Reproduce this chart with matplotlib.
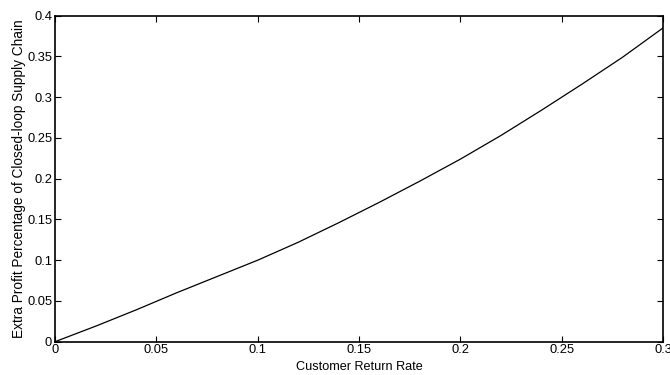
import matplotlib
matplotlib.use("Agg")
import matplotlib.pyplot as plt

# values
return_rate = [0, 0.02, 0.04, 0.06, 0.08, 0.10, 0.12, 0.14, 0.16, 0.18,
               0.20, 0.22, 0.24, 0.26, 0.28, 0.30]
extra_profit = [0, 0.019, 0.039, 0.060, 0.080, 0.100, 0.122, 0.146, 0.171, 0.197,
                0.224, 0.253, 0.284, 0.316, 0.349, 0.385]

x_ticks = [0, 0.05, 0.1, 0.15, 0.2, 0.25, 0.3]
x_labels = ["0", "0.05", "0.1", "0.15", "0.2", "0.25", "0.3"]
y_ticks = [0, 0.05, 0.1, 0.15, 0.2, 0.25, 0.3, 0.35, 0.4]
y_labels = ["0", "0.05", "0.1", "0.15", "0.2", "0.25", "0.3", "0.35", "0.4"]

plt.rcParams['font.family'] = ['Liberation Sans', 'DejaVu Sans']

fig = plt.figure(figsize=(6.7, 3.75), dpi=100)
ax = fig.add_axes([0.0821, 0.0888, 0.9075, 0.8693])

ax.plot(return_rate, extra_profit, color='black', linewidth=0.9)

ax.set_xlim(0, 0.3)
ax.set_ylim(0, 0.4)
ax.set_xticks(x_ticks)
ax.set_xticklabels(x_labels)
ax.set_yticks(y_ticks)
ax.set_yticklabels(y_labels)
ax.tick_params(direction='in', top=True, right=True, length=4, width=0.8,
               labelsize=9.3, pad=2)
for s in ax.spines.values():
    s.set_linewidth(1.2)

ax.set_xlabel("Customer Return Rate", fontsize=9.1, labelpad=3)
ax.set_ylabel("Extra Profit Percentage of Closed-loop Supply Chain", fontsize=9.8, labelpad=1)

fig.savefig("out.png", dpi=100)
